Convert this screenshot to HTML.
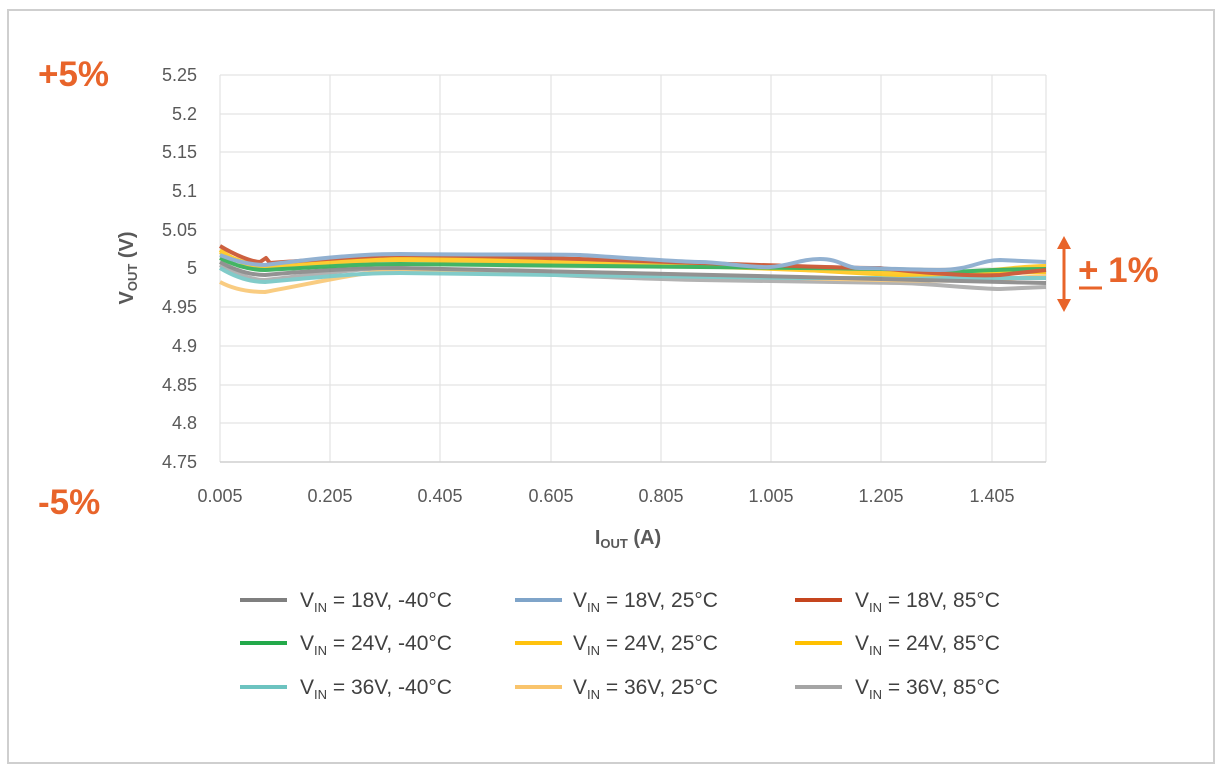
<!DOCTYPE html>
<html><head><style>
body{margin:0;width:1222px;height:767px;background:#fff;overflow:hidden}
svg{display:block}
</style></head><body>
<svg width="1222" height="767" xmlns="http://www.w3.org/2000/svg" font-family="Liberation Sans, sans-serif">
<rect x="0" y="0" width="1222" height="767" fill="#fff"/>
<rect x="8" y="10" width="1206" height="753" fill="#fff" stroke="#cfcfcf" stroke-width="2"/>
<g stroke="#e3e3e3" stroke-width="1.2">
<line x1="220" y1="75" x2="1046" y2="75"/><line x1="220" y1="114" x2="1046" y2="114"/><line x1="220" y1="152" x2="1046" y2="152"/><line x1="220" y1="191" x2="1046" y2="191"/><line x1="220" y1="230" x2="1046" y2="230"/><line x1="220" y1="268" x2="1046" y2="268"/><line x1="220" y1="307" x2="1046" y2="307"/><line x1="220" y1="346" x2="1046" y2="346"/><line x1="220" y1="385" x2="1046" y2="385"/><line x1="220" y1="423" x2="1046" y2="423"/>
<line x1="220" y1="75" x2="220" y2="462"/><line x1="330" y1="75" x2="330" y2="462"/><line x1="440" y1="75" x2="440" y2="462"/><line x1="551" y1="75" x2="551" y2="462"/><line x1="661" y1="75" x2="661" y2="462"/><line x1="771" y1="75" x2="771" y2="462"/><line x1="881" y1="75" x2="881" y2="462"/><line x1="992" y1="75" x2="992" y2="462"/><line x1="1046" y1="75" x2="1046" y2="462"/>
</g>
<line x1="220" y1="462" x2="1046" y2="462" stroke="#cfcfcf" stroke-width="1.5"/>
<g font-size="18" fill="#595959" text-anchor="end">
<text x="197" y="81">5.25</text><text x="197" y="120">5.2</text><text x="197" y="158">5.15</text><text x="197" y="197">5.1</text><text x="197" y="236">5.05</text><text x="197" y="274">5</text><text x="197" y="313">4.95</text><text x="197" y="352">4.9</text><text x="197" y="391">4.85</text><text x="197" y="429">4.8</text><text x="197" y="468">4.75</text>
</g>
<g font-size="18" fill="#595959" text-anchor="middle">
<text x="220" y="502">0.005</text><text x="330" y="502">0.205</text><text x="440" y="502">0.405</text><text x="551" y="502">0.605</text><text x="661" y="502">0.805</text><text x="771" y="502">1.005</text><text x="881" y="502">1.205</text><text x="992" y="502">1.405</text>
</g>
<text x="628" y="544" font-size="20" font-weight="bold" fill="#595959" text-anchor="middle">I<tspan font-size="13" dy="4">OUT</tspan><tspan dy="-4"> (A)</tspan></text>
<text transform="translate(133,268) rotate(-90)" font-size="20" font-weight="bold" fill="#595959" text-anchor="middle">V<tspan font-size="13" dy="4">OUT</tspan><tspan dy="-4"> (V)</tspan></text>
<text x="38" y="86" font-size="35" font-weight="bold" fill="#e8642a">+5%</text>
<text x="38" y="514" font-size="35" font-weight="bold" fill="#e8642a">-5%</text>
<g stroke="#e8642a" stroke-width="3" fill="#e8642a">
<line x1="1064" y1="244" x2="1064" y2="302"/>
<polygon points="1064,236 1057,249 1071,249" stroke="none"/>
<polygon points="1064,312 1057,299 1071,299" stroke="none"/>
</g>
<text x="1078" y="282" font-size="35" font-weight="bold" fill="#e8642a">+ 1%</text>
<line x1="1079" y1="288" x2="1102" y2="288" stroke="#e8642a" stroke-width="3"/>
<g fill="none" stroke-width="4" stroke-linejoin="round" opacity="0.85">
<path stroke="#a5a5a5" d="M220,265 C240,276 255,280 265,280 C320,274 360,268 400,268 C500,272 600,278 700,280 S880,283 900,283 S980,289 1000,289 L1046,287"/>
<path stroke="#f9c46c" d="M220,282 C235,290 250,292 265,292 C320,282 360,272 400,270 C500,270 600,272 800,278 S1000,278 1046,276"/>
<path stroke="#6cc3c0" d="M220,268 C240,280 255,282 265,282 C320,277 360,273 400,273 C500,275 600,276 800,278 L1046,278"/>
<path stroke="#7f7f7f" d="M220,262 C240,273 255,275 265,275 C320,270 360,268 400,268 C500,270 600,272 800,277 S1000,282 1046,283"/>
<path stroke="#ffc000" d="M220,252 C240,262 255,266 265,266 C320,262 360,258 400,258 C550,262 650,264 700,265 S880,275 900,275 L1046,272"/>
<path stroke="#ffc20e" d="M220,250 C240,264 255,268 265,268 C320,264 360,260 400,260 C500,261 600,262 800,270 S1000,266 1046,266"/>
<path stroke="#23a94a" d="M220,258 C240,268 255,270 265,270 C320,267 360,264 400,264 C500,265 600,266 800,268 S920,272 940,272 S1000,269 1046,269"/>
<path stroke="#c5451e" d="M220,246 C240,258 255,262 260,262 L266,258 L270,263 C330,259 360,256 400,255 C500,256 550,258 700,263 S860,268 880,268 C940,275 980,276 1000,275 L1046,270"/>
<path stroke="#7fa4c9" d="M220,255 C240,263 255,265 265,265 C320,258 360,254 400,254 C500,255 560,254 580,255 S680,262 700,262 S750,268 770,267 C790,266 800,259 820,259 C840,259 845,268 860,268 S920,270 940,270 C970,270 980,260 1000,260 L1046,262"/>
</g>
<g font-size="21" fill="#404040">
<line x1="240" y1="600" x2="287" y2="600" stroke="#7f7f7f" stroke-width="4"/>
<text x="300" y="607">V<tspan font-size="13" dy="5">IN</tspan><tspan dy="-5"> = 18V, -40°C</tspan></text>
<line x1="515" y1="600" x2="562" y2="600" stroke="#7fa4c9" stroke-width="4"/>
<text x="573" y="607">V<tspan font-size="13" dy="5">IN</tspan><tspan dy="-5"> = 18V, 25°C</tspan></text>
<line x1="795" y1="600" x2="842" y2="600" stroke="#c5451e" stroke-width="4"/>
<text x="855" y="607">V<tspan font-size="13" dy="5">IN</tspan><tspan dy="-5"> = 18V, 85°C</tspan></text>
<line x1="240" y1="643" x2="287" y2="643" stroke="#23a94a" stroke-width="4"/>
<text x="300" y="650">V<tspan font-size="13" dy="5">IN</tspan><tspan dy="-5"> = 24V, -40°C</tspan></text>
<line x1="515" y1="643" x2="562" y2="643" stroke="#ffc20e" stroke-width="4"/>
<text x="573" y="650">V<tspan font-size="13" dy="5">IN</tspan><tspan dy="-5"> = 24V, 25°C</tspan></text>
<line x1="795" y1="643" x2="842" y2="643" stroke="#ffc000" stroke-width="4"/>
<text x="855" y="650">V<tspan font-size="13" dy="5">IN</tspan><tspan dy="-5"> = 24V, 85°C</tspan></text>
<line x1="240" y1="687" x2="287" y2="687" stroke="#6cc3c0" stroke-width="4"/>
<text x="300" y="694">V<tspan font-size="13" dy="5">IN</tspan><tspan dy="-5"> = 36V, -40°C</tspan></text>
<line x1="515" y1="687" x2="562" y2="687" stroke="#f9c46c" stroke-width="4"/>
<text x="573" y="694">V<tspan font-size="13" dy="5">IN</tspan><tspan dy="-5"> = 36V, 25°C</tspan></text>
<line x1="795" y1="687" x2="842" y2="687" stroke="#a5a5a5" stroke-width="4"/>
<text x="855" y="694">V<tspan font-size="13" dy="5">IN</tspan><tspan dy="-5"> = 36V, 85°C</tspan></text>
</g>
</svg>
</body></html>
